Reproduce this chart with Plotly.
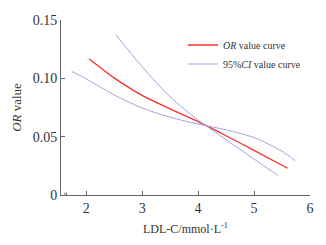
import plotly.graph_objects as go

# Data
or_x = [2.05, 2.5, 3.0, 3.5, 4.0, 4.5, 5.0, 5.6]
or_y = [0.1168, 0.1004, 0.0854, 0.0738, 0.0629, 0.0508, 0.0383, 0.0229]

ci_upper_x = [2.53, 3.0, 3.5, 4.0, 4.5, 5.0, 5.43]
ci_upper_y = [0.1375, 0.1100, 0.0842, 0.0642, 0.0475, 0.0308, 0.0167]

ci_lower_x = [1.74, 2.0, 2.5, 3.0, 3.5, 4.0, 4.5, 5.0, 5.5, 5.73]
ci_lower_y = [0.1060, 0.0996, 0.0858, 0.0746, 0.0667, 0.0608, 0.0558, 0.0492, 0.0375, 0.0295]

x_ticks = [2, 3, 4, 5, 6]
y_ticks = [0, 0.05, 0.10, 0.15]
y_tick_labels = ["0", "0.05", "0.10", "0.15"]

FONT = "Liberation Serif"
CI_COLOR = "#a3a3dc"
OR_COLOR = "#f33030"

fig = go.Figure()
fig.add_trace(go.Scatter(x=or_x, y=or_y, mode="lines", name="<i>OR</i> value curve",
                         line=dict(color=OR_COLOR, width=1.3, shape="spline", smoothing=0.8)))
fig.add_trace(go.Scatter(x=ci_lower_x, y=ci_lower_y, mode="lines", name="95%<i>CI</i> value curve",
                         legendgroup="ci",
                         line=dict(color=CI_COLOR, width=1, shape="spline", smoothing=0.8)))
fig.add_trace(go.Scatter(x=ci_upper_x, y=ci_upper_y, mode="lines", name="95%<i>CI</i> value curve",
                         legendgroup="ci", showlegend=False,
                         line=dict(color=CI_COLOR, width=1, shape="spline", smoothing=0.8)))

fig.update_layout(
    width=326, height=245,
    margin=dict(l=61, r=16, t=20, b=45),
    paper_bgcolor="white", plot_bgcolor="white",
    font=dict(family=FONT, size=14, color="#333333"),
    legend=dict(x=0.49, y=0.94, xanchor="left", yanchor="top",
                font=dict(family=FONT, size=10, color="#333333"),
                itemwidth=30, tracegroupgap=0, bgcolor="rgba(0,0,0,0)"),
    xaxis=dict(range=[1.55, 6], tickvals=x_ticks, ticks="inside", ticklen=4,
               showline=True, linecolor="#666666", linewidth=1, tickcolor="#666666",
               showgrid=False, zeroline=False,
               title=dict(text="LDL-C/mmol·L<sup>-1</sup>", font=dict(size=12), standoff=9)),
    yaxis=dict(range=[0, 0.15], tickvals=y_ticks, ticktext=y_tick_labels, ticks="inside",
               ticklen=4, showline=True, linecolor="#666666", linewidth=1, tickcolor="#666666",
               showgrid=False, zeroline=False,
               title=dict(text="<i>OR</i> value", font=dict(size=13), standoff=8)),
)

# small axis-break mark near origin
for xv in [1.62, 1.65]:
    fig.add_shape(type="line", xref="x", yref="y", x0=xv, x1=xv, y0=-0.002, y1=0.002,
                  line=dict(color="#666666", width=1))

fig.write_html("out.html", config={"displayModeBar": False},
               post_script="document.body.style.margin='0';document.body.style.padding='0';")
